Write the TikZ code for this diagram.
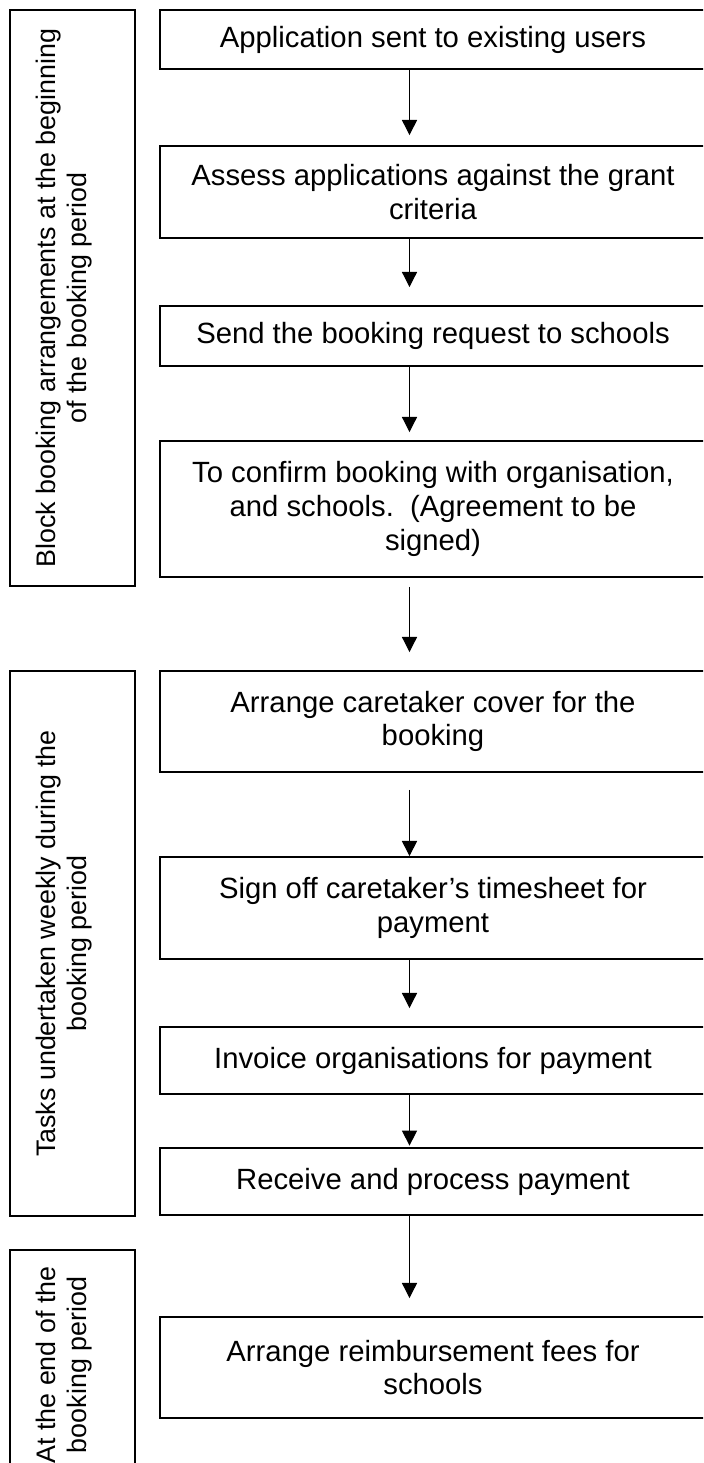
\documentclass[tikz,border=0pt]{standalone}
\usepackage{fontspec}
\setmainfont{Liberation Sans}
\usetikzlibrary{arrows.meta}

\tikzset{
  taskbox/.style={draw, line width=0.75pt, minimum width=223.86pt, inner sep=0pt, align=center, font=\fontsize{12}{13.8}\selectfont},
  sidebox/.style={draw, line width=0.75pt, minimum width=51.25pt, inner sep=0pt},
  sidetext/.style={rotate=90, inner sep=0pt, align=center, font=\fontsize{11}{12.65}\selectfont},
  flow/.style={-{Triangle[length=6.2pt,width=6.2pt]}, line width=0.45pt}
}

\begin{document}
\begin{tikzpicture}[x=0.41pt,y=-0.41pt]
\clip (0,0) rectangle (703,1463);

\coordinate (ax) at (409.5,0);

\node[sidebox, minimum height=236.16pt] (s1) at (72.5,298) {};
\node[sidebox, minimum height=223.45pt] (s2) at (72.5,943.5) {};
\node[sidebox, minimum height=94.3pt] (s3) at (72.5,1365) {};

\node[sidetext] (t1) at ([xshift=-3.5pt]s1.center) {Block booking arrangements at the beginning\\of the booking period};
\node[sidetext] (t2) at ([xshift=-3.5pt]s2.center) {Tasks undertaken weekly during the\\booking period};
\node[sidetext] (t3) at ([xshift=-3.5pt]s3.center) {At the end of the\\booking period};

\node[taskbox, minimum height=24.19pt] (b1) at (433,39.5) {Application sent to existing users};
\node[taskbox, minimum height=37.72pt] (b2) at (433,192) {Assess applications against the grant\\criteria};
\node[taskbox, minimum height=24.6pt] (b3) at (433,336) {Send the booking request to schools};
\node[taskbox, minimum height=55.76pt] (b4) at (433,509) {To confirm booking with organisation,\\and schools.\ \ (Agreement to be\\signed)};
\node[taskbox, minimum height=41.41pt] (b5) at (433,721.5) {Arrange caretaker cover for the\\booking};
\node[taskbox, minimum height=41.82pt] (b6) at (433,908) {Sign off caretaker’s timesheet for\\payment};
\node[taskbox, minimum height=27.47pt] (b7) at (433,1060.5) {Invoice organisations for payment};
\node[taskbox, minimum height=27.47pt] (b8) at (433,1181.5) {Receive and process payment};
\node[taskbox, minimum height=41.41pt] (b9) at (433,1367.5) {Arrange reimbursement fees for\\schools};

\draw[flow, shorten >=4.1pt] (b1.south -| ax) -- (b2.north -| ax);
\draw[flow, shorten >=7.4pt] (b2.south -| ax) -- (b3.north -| ax);
\draw[flow, shorten >=3.3pt] (b3.south -| ax) -- (b4.north -| ax);
\draw[flow, shorten <=3.7pt, shorten >=7.4pt] (b4.south -| ax) -- (b5.north -| ax);
\draw[flow, shorten <=7pt] (b5.south -| ax) -- (b6.north -| ax);
\draw[flow, shorten >=7.4pt] (b6.south -| ax) -- (b7.north -| ax);
\draw[flow, shorten >=0.6pt] (b7.south -| ax) -- (b8.north -| ax);
\draw[flow, shorten >=7.4pt] (b8.south -| ax) -- (b9.north -| ax);

\end{tikzpicture}
\end{document}
